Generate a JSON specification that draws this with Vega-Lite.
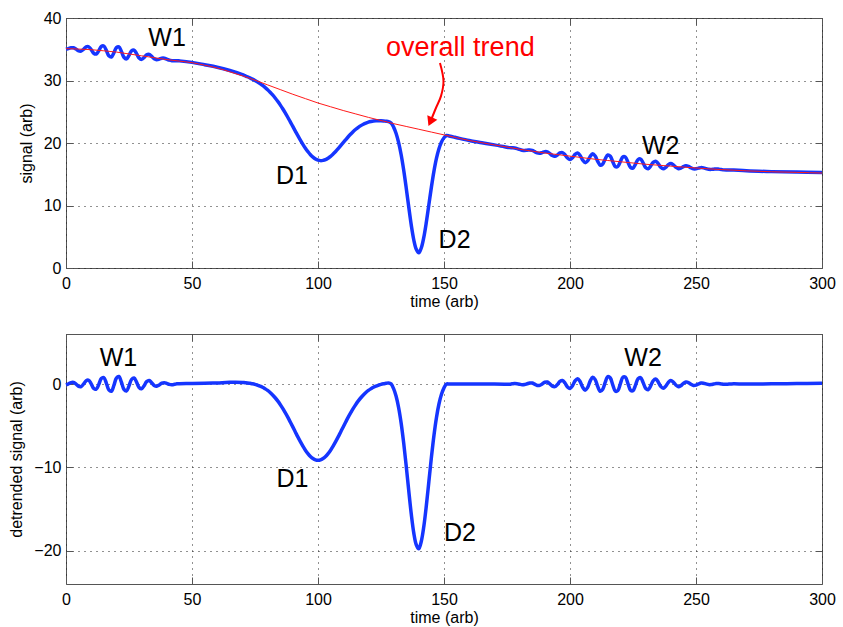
{
"$schema": "https://vega.github.io/schema/vega-lite/v6.json",
"background": "white",
"padding": {"left": 8, "top": 9, "right": 5, "bottom": 2},
"bounds": "flush",
"spacing": 66,
"config": {
  "font": "Liberation Sans",
  "view": {"stroke": "#555555", "strokeWidth": 1},
  "axis": {
    "labelFont": "Liberation Sans", "labelFontSize": 16, "labelColor": "#000000",
    "titleFont": "Liberation Sans", "titleFontSize": 16, "titleFontWeight": "normal", "titleColor": "#000000",
    "domain": false, "ticks": true, "tickColor": "#555555", "tickSize": -7, "tickWidth": 1,
    "gridColor": "#222222", "gridDash": [1, 5], "gridWidth": 1, "gridOpacity": 1,
    "labelFlush": false, "labelOverlap": false
  },
  "text": {"font": "Liberation Sans"}
},
"datasets": {
  "sig": [
    {"t":0,"s":35.00,"d":-0.10},{"t":1,"s":35.11,"d":0.02},{"t":2,"s":35.24,"d":0.17},{"t":3,"s":35.24,"d":0.18},{"t":4,"s":35.02,"d":-0.02},
    {"t":5,"s":34.75,"d":-0.28},{"t":6,"s":34.71,"d":-0.30},{"t":7,"s":35.00,"d":0.01},{"t":8,"s":35.37,"d":0.40},{"t":9,"s":35.40,"d":0.45},
    {"t":10,"s":34.95,"d":0.02},{"t":11,"s":34.36,"d":-0.53},{"t":12,"s":34.24,"d":-0.62},{"t":13,"s":34.76,"d":-0.06},{"t":14,"s":35.44,"d":0.65},
    {"t":15,"s":35.52,"d":0.77},{"t":16,"s":34.82,"d":0.11},{"t":17,"s":33.96,"d":-0.71},{"t":18,"s":33.76,"d":-0.87},{"t":19,"s":34.42,"d":-0.17},
    {"t":20,"s":35.26,"d":0.71},{"t":21,"s":35.39,"d":0.90},{"t":22,"s":34.64,"d":0.21},{"t":23,"s":33.72,"d":-0.65},{"t":24,"s":33.46,"d":-0.85},
    {"t":25,"s":34.02,"d":-0.23},{"t":26,"s":34.73,"d":0.54},{"t":27,"s":34.86,"d":0.73},{"t":28,"s":34.30,"d":0.23},{"t":29,"s":33.60,"d":-0.41},
    {"t":30,"s":33.38,"d":-0.57},{"t":31,"s":33.69,"d":-0.20},{"t":32,"s":34.11,"d":0.28},{"t":33,"s":34.18,"d":0.41},{"t":34,"s":33.86,"d":0.15},
    {"t":35,"s":33.48,"d":-0.17},{"t":36,"s":33.33,"d":-0.26},{"t":37,"s":33.42,"d":-0.11},{"t":38,"s":33.57,"d":0.10},{"t":39,"s":33.57,"d":0.16},
    {"t":40,"s":33.42,"d":0.07},{"t":41,"s":33.25,"d":-0.05},{"t":42,"s":33.17,"d":-0.08},{"t":43,"s":33.16,"d":-0.04},{"t":44,"s":33.17,"d":0.02},
    {"t":45,"s":33.14,"d":0.04},{"t":50,"s":32.90,"d":0.05},{"t":55,"s":32.53,"d":0.08},{"t":60,"s":32.13,"d":0.13},{"t":65,"s":31.60,"d":0.20},
    {"t":70,"s":30.94,"d":0.19},{"t":71,"s":30.77,"d":0.16},{"t":72,"s":30.60,"d":0.13},{"t":73,"s":30.41,"d":0.08},{"t":74,"s":30.22,"d":0.03},
    {"t":75,"s":30.01,"d":-0.04},{"t":76,"s":29.76,"d":-0.14},{"t":77,"s":29.50,"d":-0.25},{"t":78,"s":29.21,"d":-0.39},{"t":79,"s":28.88,"d":-0.57},
    {"t":80,"s":28.53,"d":-0.77},{"t":81,"s":28.13,"d":-1.02},{"t":82,"s":27.69,"d":-1.31},{"t":83,"s":27.20,"d":-1.65},{"t":84,"s":26.67,"d":-2.03},
    {"t":85,"s":26.10,"d":-2.45},{"t":86,"s":25.48,"d":-2.92},{"t":87,"s":24.81,"d":-3.44},{"t":88,"s":24.12,"d":-3.98},{"t":89,"s":23.39,"d":-4.56},
    {"t":90,"s":22.65,"d":-5.15},{"t":91,"s":21.91,"d":-5.75},{"t":92,"s":21.17,"d":-6.35},{"t":93,"s":20.46,"d":-6.92},{"t":94,"s":19.79,"d":-7.45},
    {"t":95,"s":19.16,"d":-7.94},{"t":96,"s":18.61,"d":-8.35},{"t":97,"s":18.12,"d":-8.70},{"t":98,"s":17.74,"d":-8.94},{"t":99,"s":17.44,"d":-9.10},
    {"t":100,"s":17.25,"d":-9.15},{"t":101,"s":17.18,"d":-9.10},{"t":102,"s":17.22,"d":-8.94},{"t":103,"s":17.34,"d":-8.70},{"t":104,"s":17.57,"d":-8.35},
    {"t":105,"s":17.86,"d":-7.94},{"t":106,"s":18.23,"d":-7.45},{"t":107,"s":18.64,"d":-6.92},{"t":108,"s":19.09,"d":-6.35},{"t":109,"s":19.57,"d":-5.75},
    {"t":110,"s":20.05,"d":-5.15},{"t":111,"s":20.53,"d":-4.56},{"t":112,"s":21.00,"d":-3.98},{"t":113,"s":21.43,"d":-3.44},{"t":114,"s":21.84,"d":-2.92},
    {"t":115,"s":22.20,"d":-2.45},{"t":116,"s":22.51,"d":-2.03},{"t":117,"s":22.78,"d":-1.65},{"t":118,"s":23.01,"d":-1.31},{"t":119,"s":23.19,"d":-1.02},
    {"t":120,"s":23.33,"d":-0.77},{"t":121,"s":23.43,"d":-0.57},{"t":122,"s":23.51,"d":-0.39},{"t":123,"s":23.55,"d":-0.25},{"t":124,"s":23.56,"d":-0.14},
    {"t":125,"s":23.56,"d":-0.04},{"t":126,"s":23.53,"d":0.03},{"t":127,"s":23.48,"d":0.08},{"t":128,"s":23.43,"d":0.13},{"t":129,"s":23.21,"d":0.01},
    {"t":130,"s":22.54,"d":-0.56},{"t":131,"s":21.53,"d":-1.48},{"t":132,"s":20.07,"d":-2.85},{"t":133,"s":18.12,"d":-4.71},{"t":134,"s":15.67,"d":-7.07},
    {"t":135,"s":12.82,"d":-9.83},{"t":136,"s":9.79,"d":-12.77},{"t":137,"s":6.90,"d":-15.57},{"t":138,"s":4.52,"d":-17.86},{"t":139,"s":3.00,"d":-19.29},
    {"t":140,"s":2.42,"d":-19.78},{"t":141,"s":3.24,"d":-18.87},{"t":142,"s":4.94,"d":-17.08},{"t":143,"s":7.35,"d":-14.58},{"t":144,"s":10.14,"d":-11.70},
    {"t":145,"s":12.94,"d":-8.81},{"t":146,"s":15.46,"d":-6.20},{"t":147,"s":17.53,"d":-4.04},{"t":148,"s":19.08,"d":-2.40},{"t":149,"s":20.16,"d":-1.23},
    {"t":150,"s":20.84,"d":-0.46},{"t":151,"s":21.21,"d":0},{"t":152,"s":21.12,"d":0},{"t":153,"s":21.03,"d":0},{"t":154,"s":20.94,"d":0},
    {"t":155,"s":20.85,"d":0},{"t":160,"s":20.40,"d":0},{"t":165,"s":20.05,"d":0},{"t":170,"s":19.70,"d":0},
    {"t":174,"s":19.40,"d":-0.02},{"t":175,"s":19.31,"d":-0.04},{"t":176,"s":19.26,"d":-0.02},{"t":177,"s":19.23,"d":0.02},{"t":178,"s":19.20,"d":0.06},
    {"t":179,"s":19.11,"d":0.04},{"t":180,"s":18.97,"d":-0.03},{"t":181,"s":18.85,"d":-0.09},{"t":182,"s":18.81,"d":-0.07},{"t":183,"s":18.85,"d":0.03},
    {"t":184,"s":18.88,"d":0.12},{"t":185,"s":18.81,"d":0.11},{"t":186,"s":18.62,"d":-0.02},{"t":187,"s":18.41,"d":-0.17},{"t":188,"s":18.36,"d":-0.16},
    {"t":189,"s":18.47,"d":0.01},{"t":190,"s":18.61,"d":0.21},{"t":191,"s":18.59,"d":0.24},{"t":192,"s":18.31,"d":0.01},{"t":193,"s":17.99,"d":-0.26},
    {"t":194,"s":17.88,"d":-0.32},{"t":195,"s":18.09,"d":-0.06},{"t":196,"s":18.41,"d":0.31},{"t":197,"s":18.47,"d":0.42},{"t":198,"s":18.12,"d":0.12},
    {"t":199,"s":17.60,"d":-0.35},{"t":200,"s":17.37,"d":-0.53},{"t":201,"s":17.65,"d":-0.20},{"t":202,"s":18.17,"d":0.37},{"t":203,"s":18.39,"d":0.64},
    {"t":204,"s":18.00,"d":0.30},{"t":205,"s":17.28,"d":-0.37},{"t":206,"s":16.86,"d":-0.74},{"t":207,"s":17.14,"d":-0.41},{"t":208,"s":17.85,"d":0.35},
    {"t":209,"s":18.27,"d":0.82},{"t":210,"s":17.92,"d":0.52},{"t":211,"s":17.06,"d":-0.30},{"t":212,"s":16.44,"d":-0.88},{"t":213,"s":16.65,"d":-0.63},
    {"t":214,"s":17.47,"d":0.23},{"t":215,"s":18.09,"d":0.89},{"t":216,"s":17.88,"d":0.72},{"t":217,"s":16.98,"d":-0.14},{"t":218,"s":16.21,"d":-0.87},
    {"t":219,"s":16.26,"d":-0.78},{"t":220,"s":17.05,"d":0.05},{"t":221,"s":17.78,"d":0.82},{"t":222,"s":17.73,"d":0.81},{"t":223,"s":16.93,"d":0.05},
    {"t":224,"s":16.11,"d":-0.73},{"t":225,"s":16.00,"d":-0.80},{"t":226,"s":16.63,"d":-0.13},{"t":227,"s":17.35,"d":0.63},{"t":228,"s":17.44,"d":0.76},
    {"t":229,"s":16.83,"d":0.19},{"t":230,"s":16.09,"d":-0.51},{"t":231,"s":15.88,"d":-0.69},{"t":232,"s":16.31,"d":-0.23},{"t":233,"s":16.90,"d":0.39},
    {"t":234,"s":17.09,"d":0.61},{"t":235,"s":16.70,"d":0.25},{"t":236,"s":16.13,"d":-0.29},{"t":237,"s":15.88,"d":-0.51},{"t":238,"s":16.11,"d":-0.25},
    {"t":239,"s":16.52,"d":0.19},{"t":240,"s":16.71,"d":0.41},{"t":241,"s":16.50,"d":0.23},{"t":242,"s":16.12,"d":-0.12},{"t":243,"s":15.89,"d":-0.32},
    {"t":244,"s":15.98,"d":-0.20},{"t":245,"s":16.22,"d":0.07},{"t":246,"s":16.35,"d":0.23},{"t":247,"s":16.26,"d":0.17},{"t":248,"s":16.03,"d":-0.03},
    {"t":249,"s":15.86,"d":-0.17},{"t":250,"s":15.87,"d":-0.13},{"t":251,"s":15.98,"d":0.01},{"t":252,"s":16.06,"d":0.11},{"t":253,"s":16.02,"d":0.10},
    {"t":254,"s":15.91,"d":0.01},{"t":255,"s":15.80,"d":-0.07},{"t":256,"s":15.78,"d":-0.07},{"t":257,"s":15.81,"d":-0.01},{"t":258,"s":15.85,"d":0.05},
    {"t":259,"s":15.82,"d":0.05},{"t":260,"s":15.76,"d":0.01},{"t":261,"s":15.70,"d":-0.03},{"t":262,"s":15.68,"d":-0.03},{"t":263,"s":15.68,"d":-0.01},
    {"t":264,"s":15.68,"d":0.01},{"t":265,"s":15.67,"d":0.02},{"t":270,"s":15.55,"d":0},{"t":280,"s":15.42,"d":0.02},{"t":290,"s":15.35,"d":0.05},
    {"t":300,"s":15.28,"d":0.08}
  ],
  "trend": [
    {"t":0,"r":35.1},{"t":5,"r":35.03},{"t":10,"r":34.93},{"t":15,"r":34.75},{"t":20,"r":34.55},{"t":25,"r":34.25},{"t":30,"r":33.95},
    {"t":35,"r":33.65},{"t":40,"r":33.35},{"t":45,"r":33.1},{"t":50,"r":32.85},{"t":55,"r":32.45},{"t":60,"r":32.0},{"t":65,"r":31.4},
    {"t":70,"r":30.75},{"t":75,"r":30.05},{"t":80,"r":29.3},{"t":85,"r":28.55},{"t":90,"r":27.8},{"t":95,"r":27.1},{"t":100,"r":26.4},
    {"t":105,"r":25.8},{"t":110,"r":25.2},{"t":115,"r":24.65},{"t":120,"r":24.1},{"t":125,"r":23.6},{"t":130,"r":23.1},{"t":135,"r":22.65},
    {"t":140,"r":22.2},{"t":145,"r":21.75},{"t":150,"r":21.3},{"t":155,"r":20.85},{"t":160,"r":20.4},{"t":165,"r":20.05},{"t":170,"r":19.7},
    {"t":175,"r":19.35},{"t":180,"r":19.0},{"t":185,"r":18.7},{"t":190,"r":18.4},{"t":195,"r":18.15},{"t":200,"r":17.9},{"t":205,"r":17.65},
    {"t":210,"r":17.4},{"t":215,"r":17.2},{"t":220,"r":17.0},{"t":225,"r":16.8},{"t":230,"r":16.6},{"t":235,"r":16.45},{"t":240,"r":16.3},
    {"t":245,"r":16.15},{"t":250,"r":16.0},{"t":255,"r":15.87},{"t":260,"r":15.75},{"t":265,"r":15.65},{"t":270,"r":15.55},{"t":275,"r":15.47},
    {"t":280,"r":15.4},{"t":285,"r":15.35},{"t":290,"r":15.3},{"t":295,"r":15.25},{"t":300,"r":15.2}
  ],
  "ann": [
    {"p":"top","t":40.1,"v":35.5,"lab":"W1"},
    {"p":"top","t":89.7,"v":13.4,"lab":"D1"},
    {"p":"top","t":154.2,"v":3.2,"lab":"D2"},
    {"p":"top","t":236,"v":18.2,"lab":"W2"},
    {"p":"top","t":156.5,"v":33.9,"lab":"overall trend"},
    {"p":"bot","t":20.8,"v":2.2,"lab":"W1"},
    {"p":"bot","t":229,"v":2.2,"lab":"W2"},
    {"p":"bot","t":89.9,"v":-12.3,"lab":"D1"},
    {"p":"bot","t":156.3,"v":-18.8,"lab":"D2"}
  ],
  "arrow": [
    {"o":1,"t":148.4,"v":32.8},{"o":2,"t":149.8,"v":29.9},{"o":3,"t":148.8,"v":27.5},{"o":4,"t":146.8,"v":25.6},{"o":5,"t":144.6,"v":23.4}
  ],
  "head": [
    {"t":144.6,"v":23.4}
  ]
},
"vconcat": [
  {
    "width": 756, "height": 250,
    "layer": [
      {
        "data": {"name": "sig"},
        "mark": {"type": "line", "color": "#1535ff", "strokeWidth": 3.5, "interpolate": "catmull-rom"},
        "encoding": {
          "x": {"field": "t", "type": "quantitative", "scale": {"domain": [0, 300], "nice": false},
                "axis": {"orient": "bottom", "values": [0,50,100,150,200,250,300], "title": "time (arb)", "labelPadding": 14, "titlePadding": 2, "grid": true}},
          "y": {"field": "s", "type": "quantitative", "scale": {"domain": [0, 40], "nice": false},
                "axis": {"orient": "left", "values": [0,10,20,30,40], "title": "signal (arb)", "labelPadding": 12, "titlePadding": 9, "grid": true}}
        }
      },
      {
        "data": {"name": "trend"},
        "mark": {"type": "line", "color": "#ff1a1a", "strokeWidth": 1, "interpolate": "monotone"},
        "encoding": {
          "x": {"field": "t", "type": "quantitative",
                "axis": {"orient": "top", "values": [0,50,100,150,200,250,300], "labels": false, "title": null, "grid": false}},
          "y": {"field": "r", "type": "quantitative",
                "axis": {"orient": "right", "values": [0,10,20,30,40], "labels": false, "title": null, "grid": false}}
        }
      },
      {
        "data": {"name": "ann"},
        "transform": [{"filter": "datum.p == 'top' && datum.lab != 'overall trend'"}],
        "mark": {"type": "text", "fontSize": 25, "baseline": "alphabetic", "align": "center", "color": "#000000"},
        "encoding": {
          "x": {"field": "t", "type": "quantitative", "axis": null},
          "y": {"field": "v", "type": "quantitative", "axis": null},
          "text": {"field": "lab"}
        }
      },
      {
        "data": {"name": "ann"},
        "transform": [{"filter": "datum.lab == 'overall trend'"}],
        "mark": {"type": "text", "fontSize": 27, "baseline": "alphabetic", "align": "center", "color": "#ff0000"},
        "encoding": {
          "x": {"field": "t", "type": "quantitative", "axis": null},
          "y": {"field": "v", "type": "quantitative", "axis": null},
          "text": {"field": "lab"}
        }
      },
      {
        "data": {"name": "arrow"},
        "mark": {"type": "line", "color": "#ff0000", "strokeWidth": 2, "interpolate": "catmull-rom"},
        "encoding": {
          "x": {"field": "t", "type": "quantitative", "axis": null},
          "y": {"field": "v", "type": "quantitative", "axis": null},
          "order": {"field": "o"}
        }
      },
      {
        "data": {"name": "head"},
        "mark": {"type": "point", "shape": "triangle-down", "filled": true, "size": 120, "angle": 24, "color": "#ff0000", "opacity": 1},
        "encoding": {
          "x": {"field": "t", "type": "quantitative", "axis": null},
          "y": {"field": "v", "type": "quantitative", "axis": null}
        }
      }
    ],
    "resolve": {"axis": {"x": "independent", "y": "independent"}}
  },
  {
    "width": 756, "height": 250,
    "layer": [
      {
        "data": {"name": "sig"},
        "mark": {"type": "line", "color": "#1535ff", "strokeWidth": 3.5, "interpolate": "catmull-rom"},
        "encoding": {
          "x": {"field": "t", "type": "quantitative", "scale": {"domain": [0, 300], "nice": false},
                "axis": {"orient": "bottom", "values": [0,50,100,150,200,250,300], "title": "time (arb)", "labelPadding": 14, "titlePadding": 2, "grid": true}},
          "y": {"field": "d", "type": "quantitative", "scale": {"domain": [-24, 6], "nice": false},
                "axis": {"orient": "left", "values": [-20,-10,0], "title": "detrended signal (arb)", "labelPadding": 12, "titlePadding": 9, "grid": true}}
        }
      },
      {
        "data": {"name": "ann"},
        "transform": [{"filter": "datum.p == 'bot'"}],
        "mark": {"type": "text", "fontSize": 25, "baseline": "alphabetic", "align": "center", "color": "#000000"},
        "encoding": {
          "x": {"field": "t", "type": "quantitative",
                "axis": {"orient": "top", "values": [0,50,100,150,200,250,300], "labels": false, "title": null, "grid": false}},
          "y": {"field": "v", "type": "quantitative",
                "axis": {"orient": "right", "values": [-20,-10,0], "labels": false, "title": null, "grid": false}},
          "text": {"field": "lab"}
        }
      }
    ],
    "resolve": {"axis": {"x": "independent", "y": "independent"}}
  }
]
}
